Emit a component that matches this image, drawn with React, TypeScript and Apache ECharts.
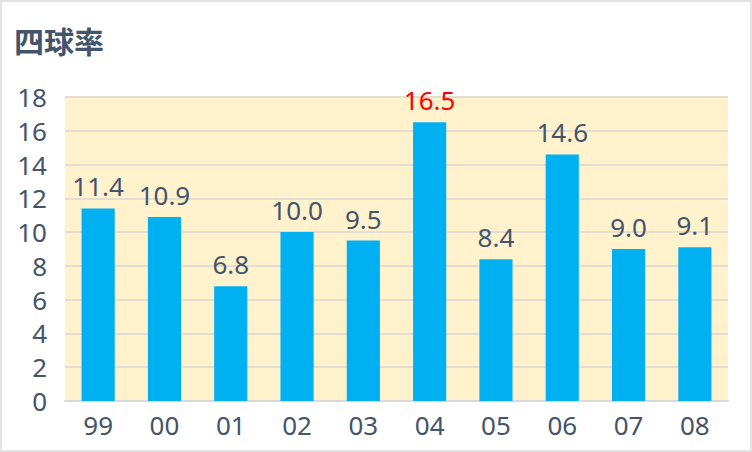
import React, { useEffect, useRef } from "react";
import * as echarts from "echarts";

const categories = ["99", "00", "01", "02", "03", "04", "05", "06", "07", "08"];
const values = [11.4, 10.9, 6.8, 10.0, 9.5, 16.5, 8.4, 14.6, 9.0, 9.1];
const highlightIndex = 5;

export default function App() {
  const ref = useRef<HTMLDivElement>(null);
  useEffect(() => {
    document.body.style.margin = "0";
    const chart = echarts.init(ref.current!, null, { renderer: "svg" });
    const font = "'Noto Sans', 'Noto Sans CJK JP', sans-serif";
    const titleFont = "'Noto Sans CJK JP', sans-serif";
    chart.setOption({
      animation: false,
      textStyle: { fontFamily: font },
      title: {
        text: "四球率",
        left: 7,
        top: 18,
        textStyle: { fontSize: 30, fontWeight: "bold", color: "#44546A", fontFamily: titleFont },
      },
      grid: {
        left: 63,
        right: 22,
        top: 95,
        bottom: 49,
        show: true,
        backgroundColor: "#FFF2CC",
        borderWidth: 0,
      },
      xAxis: {
        type: "category",
        data: categories,
        axisTick: { show: false },
        axisLine: { show: true, lineStyle: { color: "#D9D9D9", width: 2 } },
        axisLabel: { fontSize: 26, color: "#44546A", margin: 11, fontFamily: font },
      },
      yAxis: {
        type: "value",
        min: 0,
        max: 18,
        interval: 2,
        axisLine: { show: false },
        axisTick: { show: false },
        splitLine: { lineStyle: { color: "#E2DED2", width: 2 } },
        axisLabel: { fontSize: 26, color: "#44546A", margin: 18, fontFamily: font },
      },
      series: [
        {
          type: "bar",
          data: values.map((v, i) => ({
            value: v,
            label: i === highlightIndex ? { color: "#FF0000" } : undefined,
          })),
          barWidth: "50%",
          itemStyle: { color: "#00B0F0" },
          label: {
            show: true,
            position: "top",
            distance: 9,
            fontSize: 26,
            color: "#44546A",
            fontFamily: font,
            formatter: (p: any) => Number(p.value).toFixed(1),
          },
        },
      ],
    });
    return () => chart.dispose();
  }, []);
  return (
    <div
      style={{
        width: 752,
        height: 452,
        boxSizing: "border-box",
        border: "2px solid #E3E3E3",
        background: "#fff",
      }}
    >
      <div ref={ref} style={{ width: 748, height: 448 }} />
    </div>
  );
}
